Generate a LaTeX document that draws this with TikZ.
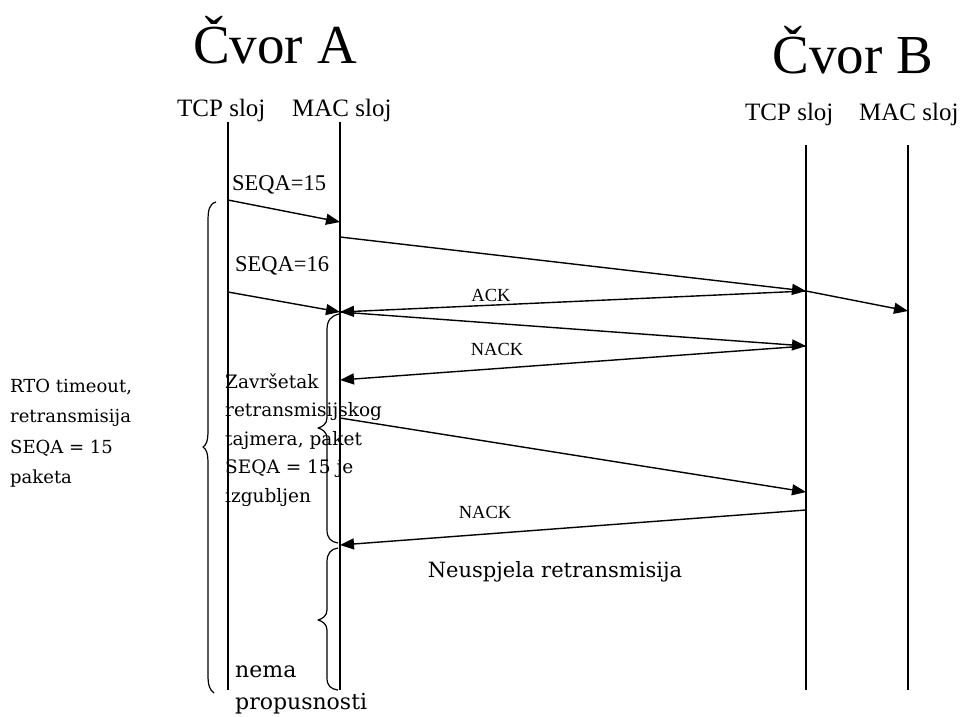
\documentclass[tikz,border=0pt]{standalone}
\usepackage{fontspec}
\setmainfont{Liberation Serif}
\newfontfamily\camfont{DejaVu Serif}
\usetikzlibrary{arrows.meta}
\begin{document}
\begin{tikzpicture}[x=1pt,y=-1pt,
  life/.style={line width=1.6pt},
  msg/.style={line width=1.4pt,-{Triangle[length=14pt,width=11pt]}},
  brace/.style={line width=1.2pt,line join=round},
  lbl/.style={inner sep=0pt,anchor=base west},
  title/.style={inner sep=0pt,anchor=base,font=\fontsize{55}{60}\selectfont},
  layer/.style={lbl,font=\fontsize{25}{28}\selectfont},
  seq/.style={lbl,font=\fontsize{22.5}{26}\selectfont},
  ack/.style={inner sep=0pt,anchor=base,font=\fontsize{18.5}{21}\selectfont},
  side/.style={lbl,font=\camfont\fontsize{18}{22}\selectfont},
  note/.style={lbl,font=\camfont\fontsize{18.5}{22}\selectfont},
  big/.style={inner sep=0pt,anchor=base,font=\camfont\fontsize{21}{24}\selectfont},
  nema/.style={lbl,font=\camfont\fontsize{22}{26}\selectfont}]
\useasboundingbox (0,0) rectangle (963,716);
\fill[white] (0,0) rectangle (963,716);

% titles
\node[title] (titleA) at (275,63) {Čvor A};
\node[title] (titleB) at (853,73) {Čvor B};
\node[layer] (tcpA) at (177,116) {TCP sloj};
\node[layer] (macA) at (292,116) {MAC sloj};
\node[layer] (tcpB) at (745,120) {TCP sloj};
\node[layer] (macB) at (859,120) {MAC sloj};

% lifelines
\coordinate (aT0) at (228,122); \coordinate (aT1) at (228,690);
\coordinate (aM0) at (340,122); \coordinate (aM1) at (340,690);
\coordinate (bT0) at (806,145); \coordinate (bT1) at (806,690);
\coordinate (bM0) at (908,145); \coordinate (bM1) at (908,690);
\draw[life] (aT0) -- (aT1);
\draw[life] (aM0) -- (aM1);
\draw[life] (bT0) -- (bT1);
\draw[life] (bM0) -- (bM1);

% message points
\coordinate (p1) at (228,200); \coordinate (p2) at (340,222);
\coordinate (p3) at (340,237); \coordinate (p4) at (806,291);
\coordinate (p5) at (908,311);
\coordinate (p6) at (228,292); \coordinate (p7) at (340,312);
\coordinate (p8) at (806,346); \coordinate (p9) at (340,380);
\coordinate (p10) at (340,418); \coordinate (p11) at (806,492);
\coordinate (p12) at (806,510); \coordinate (p13) at (340,545);

\draw[msg] (p1) -- (p2);
\draw[msg] (p3) -- (p4);
\draw[msg] (p4) -- (p5);
\draw[msg] (p6) -- (p7);
\draw[msg] (p4) -- (p7);
\draw[msg] (p7) -- (p8);
\draw[msg] (p8) -- (p9);
\draw[msg] (p10) -- (p11);
\draw[msg] (p12) -- (p13);

% labels
\node[seq] (seq15) at (232,190) {SEQA=15};
\node[seq] (seq16) at (235,271) {SEQA=16};
\node[ack] (ackl) at (491,301) {ACK};
\node[ack] (nack1) at (497,355) {NACK};
\node[ack] (nack2) at (485,518) {NACK};
\node[big] (neusp) at (555,577) {Neuspjela retransmisija};

% left text
\node[side] (rto1) at (10,392) {RTO timeout,};
\node[side] (rto2) at (10,422) {retransmisija};
\node[side] (rto3) at (10,453) {SEQA = 15};
\node[side] (rto4) at (10,483) {paketa};

% middle note
\node[note] (z1) at (225,388) {Završetak};
\node[note] (z2) at (225,416.5) {retransmisijskog};
\node[note] (z3) at (225,445) {tajmera, paket};
\node[note] (z4) at (225,473.5) {SEQA = 15 je};
\node[note] (z5) at (225,502) {izgubljen};

\node[nema] (nema1) at (235,677) {nema};
\node[nema] (nema2) at (235,709) {propusnosti};

% braces
\draw[brace] (216,202) .. controls (209,204) and (208,210) .. (208,222)
  -- (208,430) .. controls (208,442) and (206,445) .. (203,447)
  .. controls (206,449) and (208,452) .. (208,464)
  -- (208,675) .. controls (208,686) and (210,690) .. (214,693);
\draw[brace] (339,314) .. controls (331,316) and (327,320) .. (327,330)
  -- (327,418) .. controls (327,424) and (322,427) .. (318,428)
  .. controls (322,429) and (327,432) .. (327,438)
  -- (327,530) .. controls (327,538) and (331,542) .. (338,543);
\draw[brace] (338,548) .. controls (331,549) and (327,553) .. (327,562)
  -- (327,610) .. controls (327,616) and (322,619) .. (318,620)
  .. controls (322,621) and (327,624) .. (327,630)
  -- (327,678) .. controls (327,686) and (331,689) .. (338,690);
\end{tikzpicture}
\end{document}
